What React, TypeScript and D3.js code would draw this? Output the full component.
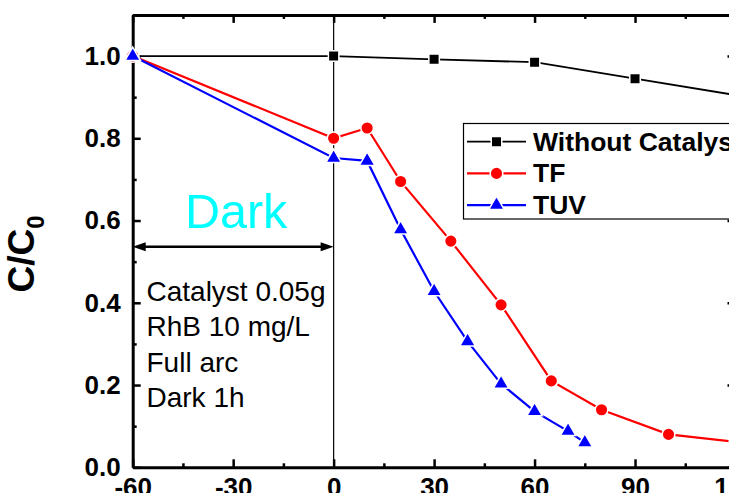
import React, { useRef, useEffect } from 'react';
import * as d3 from 'd3';

const timeNoCat = [-60, 0, 30, 60, 90, 120];
const valNoCat = [1.0, 1.0, 0.992, 0.985, 0.945, 0.905];

const timeTF = [-60, 0, 10, 20, 35, 50, 65, 80, 100, 120];
const valTF = [1.0, 0.8, 0.825, 0.695, 0.55, 0.395, 0.21, 0.14, 0.08, 0.062];

const timeTUV = [-60, 0, 10, 20, 30, 40, 50, 60, 70, 75];
const valTUV = [1.0, 0.752, 0.745, 0.578, 0.428, 0.306, 0.203, 0.136, 0.088, 0.06];

const xTicks = [-60, -30, 0, 30, 60, 90, 120];
const xMinor = [-45, -15, 15, 45, 75, 105];
const yTicks = [0, 0.2, 0.4, 0.6, 0.8, 1.0];
const yMinor = [0.1, 0.3, 0.5, 0.7, 0.9, 1.1];

const legendNames = ['Without Catalyst', 'TF', 'TUV'];
const notes = ['Catalyst 0.05g', 'RhB 10 mg/L', 'Full arc', 'Dark 1h'];

const FONT = "'Liberation Sans', Arial, sans-serif";

const App = () => {
  const ref = useRef(null);

  useEffect(() => {
    const W = 729, H = 493;
    d3.select(ref.current).selectAll('*').remove();
    const svg = d3.select(ref.current)
      .append('svg')
      .attr('width', W)
      .attr('height', H)
      .style('display', 'block')
      .style('font-family', FONT);

    const x = d3.scaleLinear().domain([-60, 120]).range([132.7, 735.5]);
    const y = d3.scaleLinear().domain([0, 1.1]).range([467.3, 14.9]);

    // frame axes
    const styleAxis = (g, lw) => {
      g.select('.domain').attr('stroke-width', 3);
      g.selectAll('.tick line').attr('stroke-width', lw);
      g.selectAll('text')
        .attr('font-family', FONT)
        .attr('font-weight', 'bold')
        .attr('font-size', 26)
        .attr('fill', '#000');
    };

    const bottom = svg.append('g').attr('transform', `translate(0,${y(0)})`)
      .call(d3.axisBottom(x).tickValues(xTicks).tickSize(-8).tickSizeOuter(0).tickPadding(10).tickFormat(d => String(d)));
    styleAxis(bottom, 2.5);
    svg.append('g').attr('transform', `translate(0,${y(0)})`)
      .call(d3.axisBottom(x).tickValues(xMinor).tickSize(-4).tickFormat(() => ''))
      .call(g => g.select('.domain').remove())
      .selectAll('line').attr('stroke-width', 2.5);

    const top = svg.append('g').attr('transform', `translate(0,${y(1.1)})`)
      .call(d3.axisTop(x).tickValues(xTicks).tickSize(-8).tickSizeOuter(0).tickFormat(() => ''));
    styleAxis(top, 2.5);
    svg.append('g').attr('transform', `translate(0,${y(1.1)})`)
      .call(d3.axisTop(x).tickValues(xMinor).tickSize(-4).tickFormat(() => ''))
      .call(g => g.select('.domain').remove())
      .selectAll('line').attr('stroke-width', 2.5);

    const left = svg.append('g').attr('transform', `translate(${x(-60)},0)`)
      .call(d3.axisLeft(y).tickValues(yTicks).tickSize(-8).tickSizeOuter(0).tickPadding(12).tickFormat(d3.format('.1f')));
    styleAxis(left, 2.5);
    svg.append('g').attr('transform', `translate(${x(-60)},0)`)
      .call(d3.axisLeft(y).tickValues(yMinor).tickSize(-4).tickFormat(() => ''))
      .call(g => g.select('.domain').remove())
      .selectAll('line').attr('stroke-width', 2.5);

    const right = svg.append('g').attr('transform', `translate(${x(120)},0)`)
      .call(d3.axisRight(y).tickValues(yTicks).tickSize(-8).tickSizeOuter(0).tickFormat(() => ''));
    styleAxis(right, 2.5);

    // y title
    const yt = svg.append('text')
      .attr('transform', 'translate(34,254) rotate(-90)')
      .attr('text-anchor', 'middle')
      .attr('font-weight', 'bold')
      .attr('font-size', 37)
      .attr('fill', '#000');
    yt.append('tspan').text('C/C');
    yt.append('tspan').attr('dy', 10).attr('font-size', 24).text('0');

    // vertical divider at t = 0
    svg.append('line')
      .attr('x1', x(0)).attr('x2', x(0))
      .attr('y1', y(1.1)).attr('y2', y(0))
      .attr('stroke', '#000').attr('stroke-width', 1.2);

    // dark arrow
    const ay = 246.7;
    svg.append('line')
      .attr('x1', x(-60) + 8).attr('x2', x(0) - 8)
      .attr('y1', ay).attr('y2', ay)
      .attr('stroke', '#000').attr('stroke-width', 2.5);
    svg.append('path')
      .attr('d', `M${x(-60)},${ay}l13,-4.5v9z M${x(0)},${ay}l-13,-4.5v9z`)
      .attr('fill', '#000');

    svg.append('text')
      .attr('x', (x(-60) + x(0)) / 2 + 3).attr('y', 228)
      .attr('text-anchor', 'middle')
      .attr('font-size', 48.5)
      .attr('fill', '#00FFFF')
      .text('Dark');

    svg.append('g').selectAll('text')
      .data(notes)
      .enter()
      .append('text')
      .attr('x', 146.5)
      .attr('y', (d, i) => 300.5 + i * 35.6)
      .attr('font-size', 28)
      .attr('fill', '#000')
      .text(d => d);

    // series
    const series = [
      { t: timeNoCat, v: valNoCat, color: '#000', shape: 'square', lw: 1.8 },
      { t: timeTF, v: valTF, color: '#FF0000', shape: 'circle', lw: 2.2 },
      { t: timeTUV, v: valTUV, color: '#0000FF', shape: 'triangle', lw: 2.2 },
    ];

    const line = d3.line().x(d => x(d[0])).y(d => y(d[1]));
    const symbolPath = (shape) => {
      if (shape === 'square') return d3.symbol().type(d3.symbolSquare).size(110)();
      if (shape === 'circle') return d3.symbol().type(d3.symbolCircle).size(125)();
      return d3.symbol().type(d3.symbolTriangle).size(105)();
    };

    series.forEach(s => {
      const pts = s.t.map((t, i) => [t, s.v[i]]);
      svg.append('path')
        .datum(pts)
        .attr('d', line)
        .attr('fill', 'none')
        .attr('stroke', s.color)
        .attr('stroke-width', s.lw);
      svg.append('g').selectAll('path')
        .data(pts)
        .enter()
        .append('path')
        .attr('transform', d => `translate(${x(d[0])},${y(d[1])})`)
        .attr('d', symbolPath(s.shape))
        .attr('fill', s.color)
        .attr('stroke', '#fff')
        .attr('stroke-width', 1.5);
    });

    // legend
    const lg = svg.append('g');
    lg.append('rect')
      .attr('x', 463.5).attr('y', 123.5)
      .attr('width', 330).attr('height', 95.5)
      .attr('fill', '#fff')
      .attr('stroke', '#000').attr('stroke-width', 1.2);
    series.forEach((s, i) => {
      const ly = 141.7 + i * 31.7;
      lg.append('line')
        .attr('x1', 467).attr('x2', 526)
        .attr('y1', ly).attr('y2', ly)
        .attr('stroke', s.color).attr('stroke-width', s.lw);
      lg.append('path')
        .attr('transform', `translate(496.5,${ly})`)
        .attr('d', symbolPath(s.shape))
        .attr('fill', s.color)
        .attr('stroke', '#fff')
        .attr('stroke-width', 1.5);
      lg.append('text')
        .attr('x', 533)
        .attr('y', ly + 9)
        .attr('font-size', 26.5)
        .attr('font-weight', 'bold')
        .attr('fill', '#000')
        .text(legendNames[i]);
    });
  }, []);

  return (
    <div ref={ref} style={{ position: 'absolute', left: 0, top: 0 }} />
  );
};

export default App;
